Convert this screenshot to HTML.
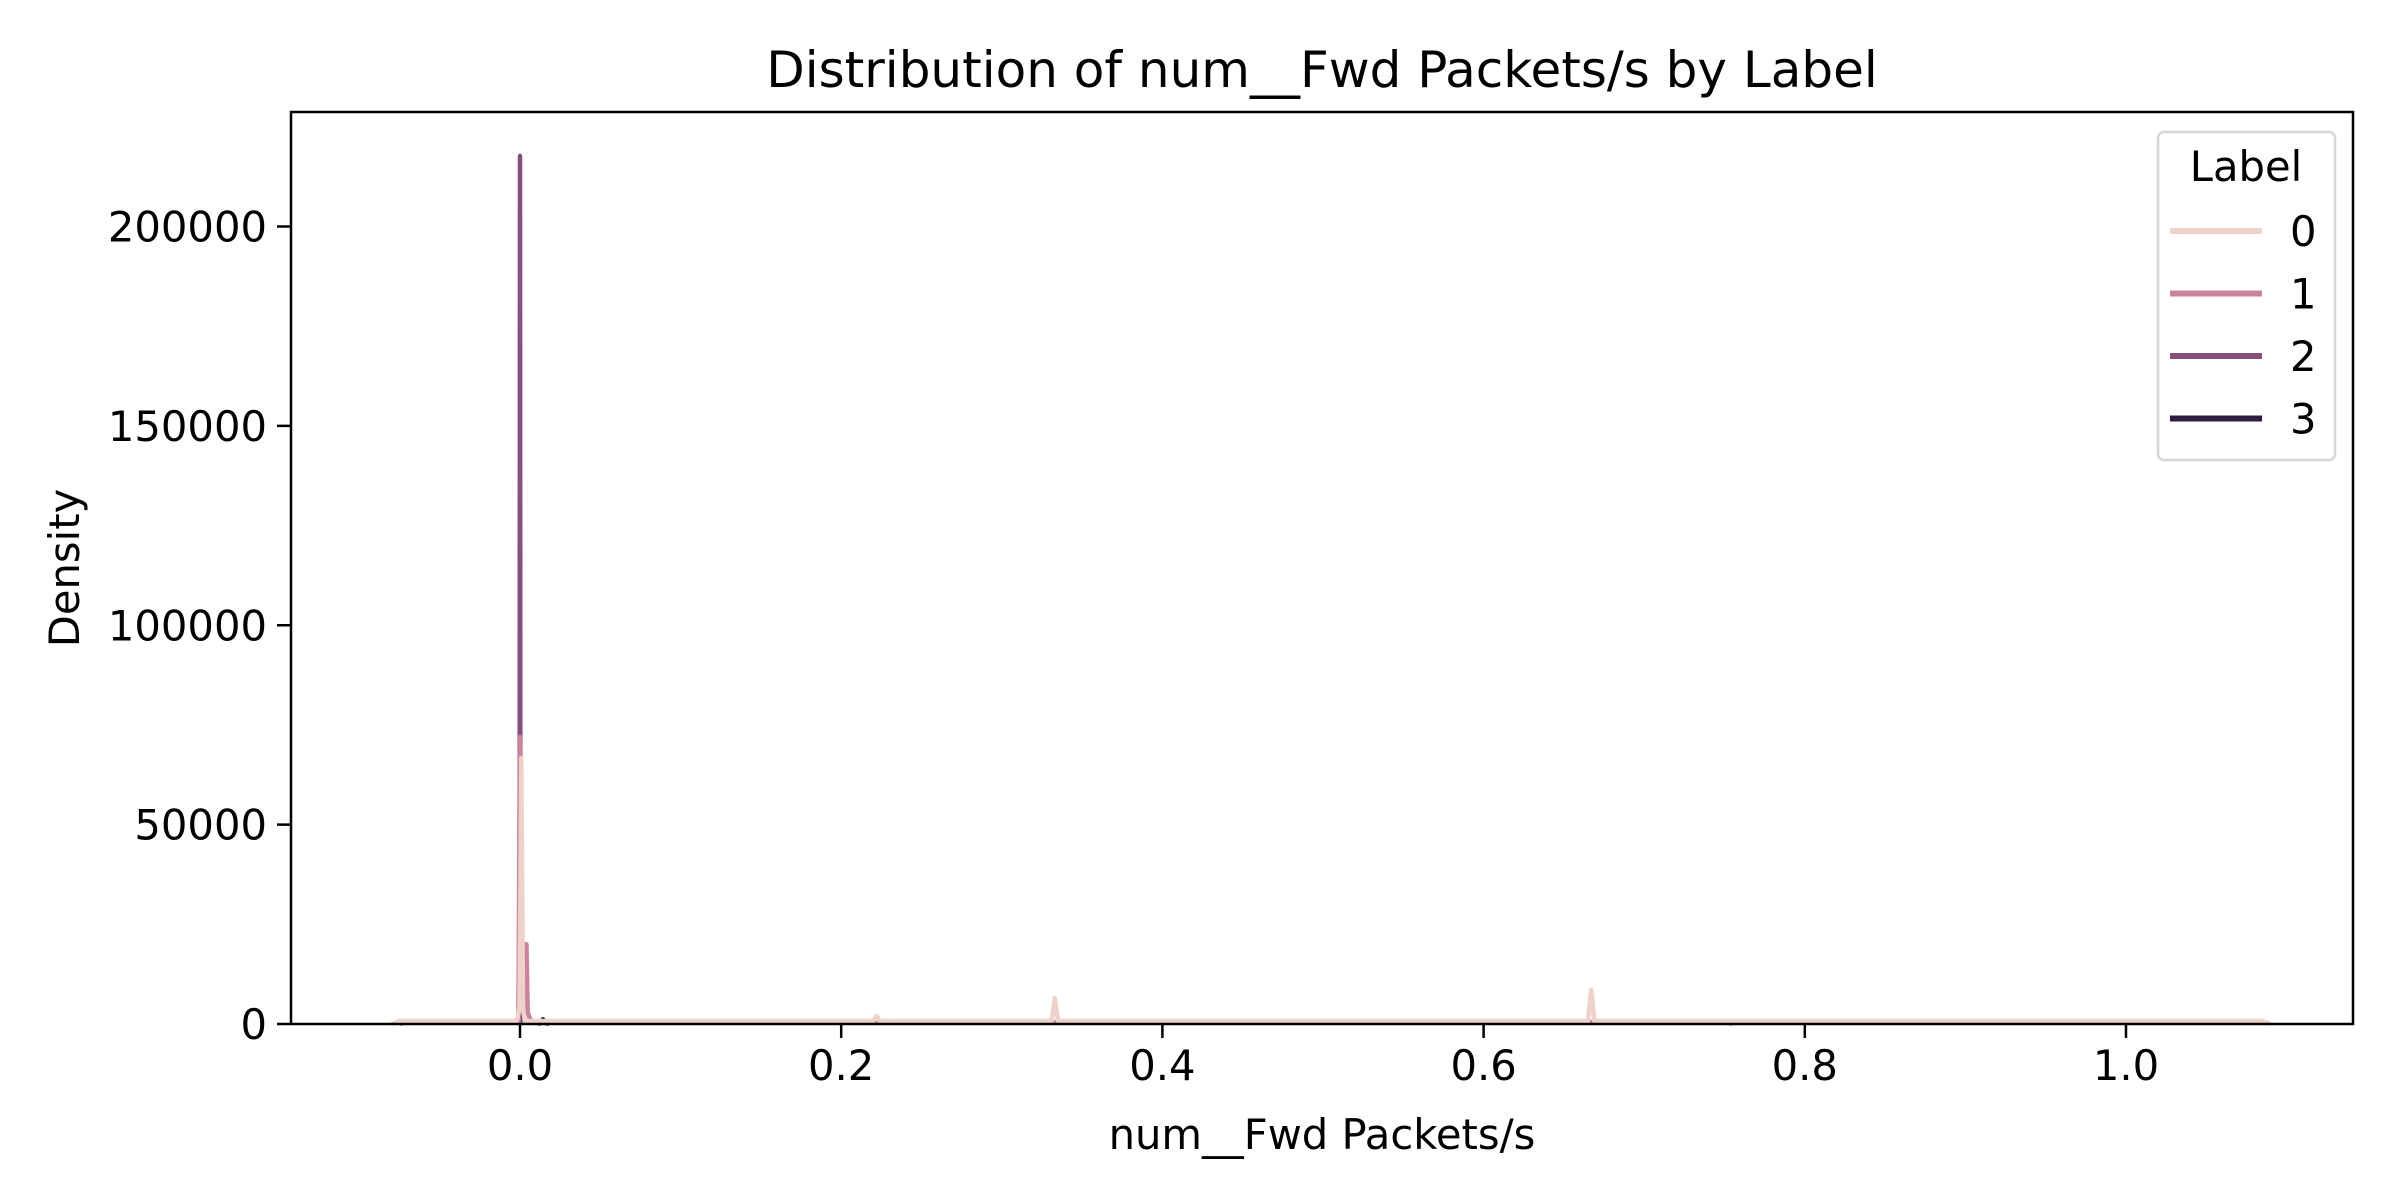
<!DOCTYPE html>
<html><head><meta charset="utf-8"><style>
html,body{margin:0;padding:0;background:#fff;}
svg{display:block;font-family:"DejaVu Sans","Liberation Sans",sans-serif;}
</style></head><body>
<svg id="chart" width="2400" height="1200" viewBox="0 0 2400 1200">
<rect width="2400" height="1200" fill="#fff"/>
<text x="1322" y="87" font-size="50" text-anchor="middle">Distribution of num__Fwd Packets/s by Label</text>
<g id="plot"></g>
<g id="axes"></g>
<text x="1322" y="1149" font-size="41.7" text-anchor="middle">num__Fwd Packets/s</text>
<text transform="translate(79,568) rotate(-90)" font-size="41.7" text-anchor="middle">Density</text>
<g>
<rect x="2158" y="132" width="177" height="328" rx="6" fill="#fff" fill-opacity="0.8" stroke="#d6d6d6" stroke-width="2.5"/>
<text x="2246" y="181" font-size="41.7" text-anchor="middle">Label</text>
<g id="legend-entries"></g>
</g>
</svg>
<script>
const xTicks = [0.0, 0.2, 0.4, 0.6, 0.8, 1.0];
const xTickLabels = ["0.0", "0.2", "0.4", "0.6", "0.8", "1.0"];
const yTicks = [0, 50000, 100000, 150000, 200000];
const yTickLabels = ["0", "50000", "100000", "150000", "200000"];
const labels = ["0", "1", "2", "3"];
const colors = ["#eed1c8", "#c9839c", "#874f7e", "#2d1e3e"];
const x0 = [-0.08, -0.075, -0.002, -0.0003, 0.0008, 0.0019, 0.003, 0.22, 0.222, 0.224, 0.331, 0.333, 0.335, 0.665, 0.667, 0.669, 1.085, 1.09];
const y0 = [0, 750, 750, 4000, 66700, 4000, 750, 750, 2000, 750, 750, 6500, 750, 750, 8500, 750, 750, 0];
const x1 = [-0.075, -0.07, -0.001, 0.0, 0.001, 0.002, 0.0033, 0.004, 0.0048, 0.006, 0.008, 0.01, 0.75, 0.755];
const y1 = [0, 500, 500, 72000, 3000, 3000, 20000, 20000, 3000, 1500, 500, 500, 500, 0];
const x2 = [-0.0008, -0.0003, 0.0, 0.0003, 0.0008];
const y2 = [0, 1000, 217700, 1000, 0];
const x3 = [0.011, 0.013, 0.0143, 0.0156, 0.018];
const y3 = [0, 300, 1200, 300, 0];
const seriesX = [x0, x1, x2, x3];
const seriesY = [y0, y1, y2, y3];

const L = 291, R = 2353, T = 112, B = 1024;
function sx(v){ return 520 + v * 1606; }
function sy(v){ return B - v / 200000 * 797.5; }
const NS = "http://www.w3.org/2000/svg";
const plot = document.getElementById('plot');
const axes = document.getElementById('axes');
function mk(tag, attrs, parent){ const e = document.createElementNS(NS, tag); for (const k in attrs) e.setAttribute(k, attrs[k]); parent.appendChild(e); return e; }

for (let i = labels.length - 1; i >= 0; i--) {
  const pts = seriesX[i].map((x, j) => sx(x).toFixed(2) + ',' + sy(seriesY[i][j]).toFixed(2)).join(' ');
  const pl = mk('polyline', {points: pts, fill: 'none', stroke: colors[i], 'stroke-width': 4.5, 'stroke-linejoin': 'round'}, plot);
  
  
}

const frame = mk('rect', {x: L, y: T, width: R - L, height: B - T, fill: 'none', stroke: '#000', 'stroke-width': 2.5}, axes);



xTicks.forEach((v, i) => {
  const t = mk('line', {x1: sx(v), x2: sx(v), y1: B, y2: B + 14, stroke: '#000', 'stroke-width': 2.5}, axes);
  
  
  const tx = mk('text', {x: sx(v), y: B + 56, 'font-size': 41.7, 'text-anchor': 'middle'}, axes);
  tx.textContent = xTickLabels[i];
  
  
});
yTicks.forEach((v, i) => {
  const t = mk('line', {x1: L - 14, x2: L, y1: sy(v), y2: sy(v), stroke: '#000', 'stroke-width': 2.5}, axes);
  
  
  const tx = mk('text', {x: L - 24, y: sy(v) + 15, 'font-size': 41.7, 'text-anchor': 'end'}, axes);
  tx.textContent = yTickLabels[i];
  
  
});

const le = document.getElementById('legend-entries');
labels.forEach((lab, i) => {
  const y = 231 + i * 62.5;
  const g = mk('g', {}, le);
  
  
  mk('line', {x1: 2170, x2: 2262, y1: y, y2: y, stroke: colors[i], 'stroke-width': 6}, g);
  const tx = mk('text', {x: 2290, y: y + 15, 'font-size': 41.7}, g);
  tx.textContent = lab;
});
</script>
</body></html>
